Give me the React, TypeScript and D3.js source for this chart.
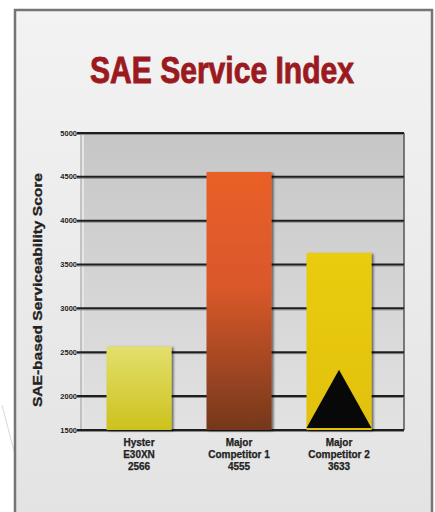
import React from "react";
import * as d3 from "d3";

const categories = ["Hyster", "Major Competitor 1", "Major Competitor 2"];
const labelLines = [
  ["Hyster", "E30XN", "2566"],
  ["Major", "Competitor 1", "4555"],
  ["Major", "Competitor 2", "3633"],
];
const values = [2566, 4555, 3633];
const yTicks = [1500, 2000, 2500, 3000, 3500, 4000, 4500, 5000];

const W = 435;
const H = 512;

export default function App() {
  const y = d3.scaleLinear().domain([1500, 2000, 5000]).range([430, 396, 133]);
  const x = d3
    .scaleBand<string>()
    .domain(categories)
    .range([89, 389])
    .paddingInner(0.35)
    .paddingOuter(0.175);
  const left = 81;
  const right = 404;
  const gradIds = ["g0", "g1", "g2"];
  const font = "'Liberation Sans', Arial, sans-serif";
  const narrow = "'Liberation Sans Narrow', 'Liberation Sans', Arial, sans-serif";

  return (
    <svg
      width={W}
      height={H}
      style={{ position: "absolute", left: 0, top: 0, display: "block" }}
    >
      <defs>
        <linearGradient id="bg" x1="0" y1="0" x2="0" y2="1">
          <stop offset="0" stopColor="#f3f3f3" />
          <stop offset="1" stopColor="#e3e3e3" />
        </linearGradient>
        <linearGradient id="plotbg" x1="0" y1="0" x2="0" y2="1">
          <stop offset="0" stopColor="#c6c6c6" />
          <stop offset="1" stopColor="#e2e2e2" />
        </linearGradient>
        <linearGradient id="g0" x1="0" y1="0" x2="0" y2="1">
          <stop offset="0" stopColor="#e3df6e" />
          <stop offset="1" stopColor="#cdc21c" />
        </linearGradient>
        <linearGradient id="g1" x1="0" y1="0" x2="0" y2="1">
          <stop offset="0" stopColor="#ea5f28" />
          <stop offset="0.45" stopColor="#d9582a" />
          <stop offset="1" stopColor="#74381c" />
        </linearGradient>
        <linearGradient id="g2" x1="0" y1="0" x2="0" y2="1">
          <stop offset="0" stopColor="#e9cc0c" />
          <stop offset="1" stopColor="#e2c10a" />
        </linearGradient>
        <filter id="shadow" x="-20%" y="-20%" width="140%" height="140%">
          <feDropShadow dx="2" dy="1" stdDeviation="1.2" floodColor="#000" floodOpacity="0.55" />
        </filter>
      </defs>
      <rect x={0} y={0} width={W} height={H} fill="#ffffff" />
      <line x1={2} y1={405} x2={30} y2={512} stroke="#d8d8d8" strokeWidth={1} />
      <rect x={15} y={10} width={417} height={H} fill="url(#bg)" stroke="#757575" strokeWidth={2.5} />

      <text
        x={222}
        y={83}
        textAnchor="middle"
        fontFamily={narrow}
        fontWeight="bold"
        fontSize={37}
        fill="#9b1a1f"
        stroke="#9b1a1f"
        strokeWidth={0.9}
        textLength={264}
        lengthAdjust="spacingAndGlyphs"
      >
        SAE Service Index
      </text>

      {/* plot background */}
      <rect x={left} y={y(5000)} width={right - left} height={y(1500) - y(5000)} fill="url(#plotbg)" />
      <rect x={left} y={y(5000)} width={3} height={y(1500) - y(5000)} fill="#e6e6e6" />
      <line x1={left} y1={y(5000)} x2={left} y2={y(1500)} stroke="#9a9a9a" strokeWidth={1} />
      <line x1={right} y1={y(5000)} x2={right} y2={y(1500)} stroke="#555" strokeWidth={1.5} />

      {/* gridlines */}
      {yTicks.map((t) => (
        <g key={t}>
          <line x1={77} y1={y(t) + 1.5} x2={right} y2={y(t) + 1.5} stroke="#8a8a8a" strokeWidth={1} />
          <line x1={77} y1={y(t)} x2={right} y2={y(t)} stroke="#1e1e1e" strokeWidth={2} />
          <text
            x={77}
            y={y(t) + 2.5}
            textAnchor="end"
            fontFamily={narrow}
            fontWeight="bold"
            fontSize={7.5}
            fill="#222"
          >
            {t}
          </text>
        </g>
      ))}

      {/* bars */}
      {categories.map((c, i) => {
        const bx = x(c)!;
        const bw = x.bandwidth();
        const top = y(values[i]);
        const bottom = y(1500);
        return (
          <g key={c}>
            <rect
              x={bx}
              y={top}
              width={bw}
              height={bottom - top}
              fill={`url(#${gradIds[i]})`}
              filter="url(#shadow)"
            />
            {i === 2 && (
              <path
                d={`M${bx},${bottom - 2} L${bx + bw / 2},${y(2300)} L${bx + bw},${bottom - 2} Z`}
                fill="#080808"
              />
            )}
          </g>
        );
      })}

      {/* category labels */}
      {categories.map((c, i) => (
        <text
          key={c}
          textAnchor="middle"
          fontFamily={narrow}
          fontWeight="bold"
          fontSize={10}
          fill="#222"
          stroke="#222"
          strokeWidth={0.25}
        >
          {labelLines[i].map((ln, j) => (
            <tspan key={j} x={x(c)! + x.bandwidth() / 2} y={446 + j * 12}>
              {ln}
            </tspan>
          ))}
        </text>
      ))}

      {/* y axis title */}
      <text
        transform={`translate(42,290) rotate(-90)`}
        textAnchor="middle"
        fontFamily={font}
        fontWeight="bold"
        fontSize={12}
        fill="#222"
        stroke="#222"
        strokeWidth={0.3}
        textLength={234}
        lengthAdjust="spacingAndGlyphs"
      >
        SAE-based Serviceability Score
      </text>
    </svg>
  );
}
